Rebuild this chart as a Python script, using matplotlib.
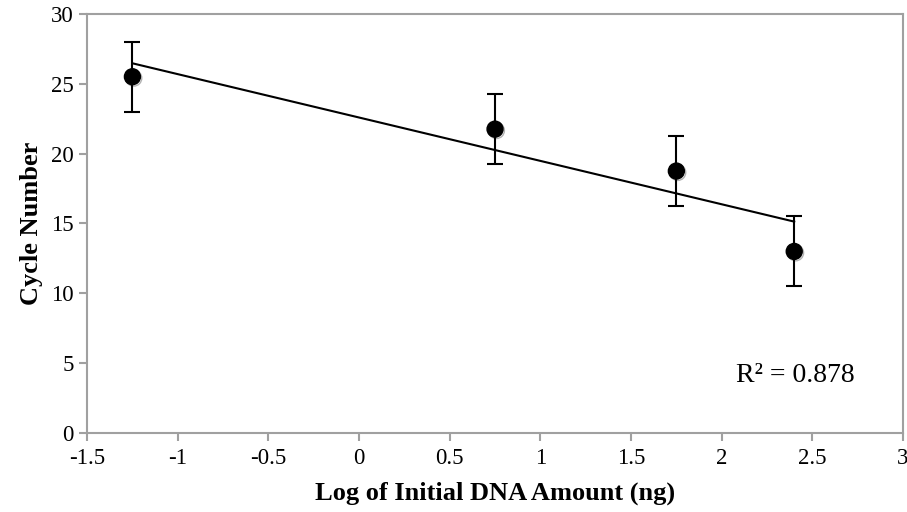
import numpy as np
import matplotlib.pyplot as plt
import matplotlib.patheffects as pe

plt.rcParams['font.family'] = ['Liberation Serif', 'DejaVu Serif']

# data
log_dna = [-1.25, 0.75, 1.75, 2.4]
cycles = [25.5, 21.75, 18.75, 13.0]
errors = [2.5, 2.5, 2.5, 2.5]
x_ticks = [-1.5, -1, -0.5, 0, 0.5, 1, 1.5, 2, 2.5, 3]
x_tick_labels = ['-1.5', '-1', '-0.5', '0', '0.5', '1', '1.5', '2', '2.5', '3']
y_ticks = [0, 5, 10, 15, 20, 25, 30]
r2_label = 'R² = 0.878'

fig = plt.figure(figsize=(9.07, 5.12), dpi=100)
ax = fig.add_axes([0.096, 0.154, 0.8996, 0.819])

# linear trendline
slope, intercept = np.polyfit(log_dna, cycles, 1)
xs = np.array([min(log_dna), max(log_dna)])
ax.plot(xs, slope * xs + intercept, color='black', lw=1.5, zorder=2)

ax.errorbar(log_dna, cycles, yerr=errors, fmt='none', ecolor='black',
            elinewidth=1.5, capsize=6, capthick=1.5, zorder=3)
ax.plot(log_dna, cycles, 'o', color='black', markersize=11.5, zorder=4,
        path_effects=[pe.SimpleLineShadow(offset=(1, -1), alpha=0.3), pe.Normal()])

ax.set_xlim(-1.5, 3)
ax.set_ylim(0, 30)
ax.set_xticks(x_ticks)
ax.set_xticklabels(x_tick_labels)
ax.set_yticks(y_ticks)
ax.tick_params(axis='both', labelsize=16.5, color='#a0a0a0', length=6, width=1.5, direction='out')
ax.tick_params(axis='x', pad=5)
for s in ax.spines.values():
    s.set_color('#a0a0a0')
    s.set_linewidth(1.5)

ax.set_xlabel('Log of Initial DNA Amount (ng)', fontsize=19, fontweight='bold', labelpad=9)
ax.set_ylabel('Cycle Number', fontsize=19, fontweight='bold', labelpad=6)

ax.text(0.941, 0.138, r2_label, transform=ax.transAxes, ha='right', va='center', fontsize=20)

fig.savefig('out.png', dpi=100)
